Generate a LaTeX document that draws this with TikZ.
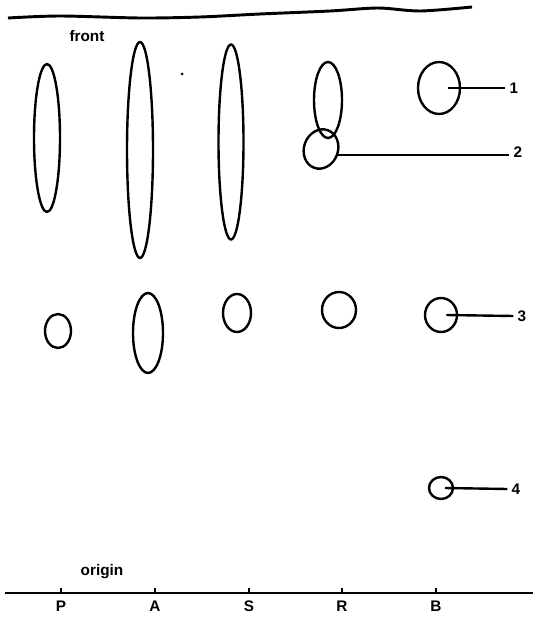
\documentclass[tikz,border=0pt]{standalone}
\usepackage{fontspec}
\setsansfont{Liberation Sans}
\usetikzlibrary{positioning, shapes.geometric}
\tikzset{
    spot/.style 2 args = {ellipse, draw, line width=1.8pt, inner sep=0pt,
                        minimum width=#1*0.75pt, minimum height=#2*0.75pt},
    lane/.style = {font=\sffamily\bfseries\fontsize{11.5}{13}\selectfont, inner sep=0pt},
    num/.style = {font=\sffamily\bfseries\fontsize{11.5}{13}\selectfont, inner sep=3pt},
    marker/.style = {line width=1.8pt}
}
\begin{document}
\begin{tikzpicture}[x=0.75pt, y=-0.75pt]
		\useasboundingbox (0,0) rectangle (533,617);
		\draw [line width=2.2pt] plot[smooth] coordinates {(8,18) (60,16) (140,18) (200,17) (260,14) (330,11) (378,8) (420,11) (472,7)};
		\node (front) [lane] at (87,36) {front};
		\fill (182,74) circle (1.5);
		\node (p1) [spot={26}{148}] at (47,138) {};
		\node (a1) [spot={26}{216}] at (140,150) {};
		\node (s1) [spot={25}{195}] at (231,142) {};
		\node (r1) [spot={28}{76}] at (328,100) {};
		\node (r2) [spot={34}{40}, rotate=-20] at (321,149) {};
		\node (b1) [spot={42}{52}] at (439,88) {};
		\node (p3) [spot={26}{34}] at (58,331) {};
		\node (a3) [spot={30}{80}] at (148,333) {};
		\node (s3) [spot={28}{38}] at (237,313) {};
		\node (r3) [spot={34}{36}] at (339,310) {};
		\node (b3) [spot={32}{34}] at (441,315) {};
		\node (b4) [spot={24}{22}] at (441,488) {};
		\node (n1) [num] at (514,88) {1};
		\node (n2) [num] at (518,152) {2};
		\node (n3) [num] at (522,316) {3};
		\node (n4) [num] at (516,489) {4};
		\draw [marker] ([xshift=7pt]b1.center) -- (n1.west);
		\draw [marker] (r2.east) -- (r2.east -| n2.west);
		\draw [marker] ([xshift=4pt]b3.center) -- (n3.west);
		\draw [marker] ([xshift=3pt]b4.center) -- (n4.west);
		\node (origin) [lane] at (102,572) {origin};
		\coordinate (P) at (61,593);
		\coordinate (A) at (155,593);
		\coordinate (S) at (249,593);
		\coordinate (R) at (342,593);
		\coordinate (B) at (436,593);
		\draw [marker] (5,593) -- (533,593);
		\foreach \c in {P,A,S,R,B}
			\draw [marker] (\c) -- ++(0,-5) node (l\c) [lane, below=9pt] {\c};
	\end{tikzpicture}
\end{document}
